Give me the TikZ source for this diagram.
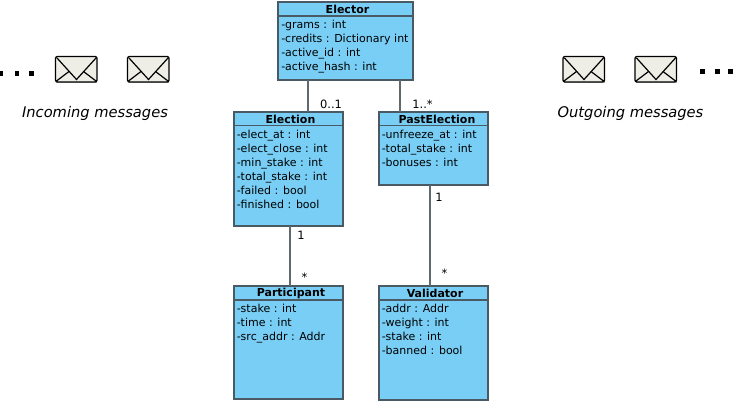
\documentclass[tikz,border=0pt]{standalone}
\usepackage{fontspec}
\setmainfont{DejaVu Sans}
\definecolor{umlblue}{HTML}{79CEF5}
\definecolor{umlline}{HTML}{4A5A64}
\definecolor{assocline}{HTML}{5F686C}
\definecolor{envfill}{HTML}{EEEEE6}
\tikzset{
  px/.style={x=0.75pt,y=-0.75pt},
  classbox/.style={draw=umlline,fill=umlblue,line width=0.9pt,inner sep=0pt,outer sep=0pt},
  classrule/.style={draw=umlline,line width=0.9pt},
  classtitle/.style={font=\fontsize{8.25pt}{10.5pt}\selectfont\bfseries,inner sep=0pt,anchor=center},
  attrs/.style={font=\fontsize{8.25pt}{10.5pt}\selectfont,inner sep=0pt,anchor=north west,align=left},
  assoc/.style={draw=assocline,line width=0.9pt},
  mult/.style={font=\fontsize{8.6pt}{10pt}\selectfont,inner sep=0pt},
  envbox/.style={draw=black,fill=envfill,line width=1pt,rounded corners=1.5pt},
  envflap/.style={draw=black,line width=0.9pt},
  caption/.style={font=\fontsize{11pt}{13pt}\selectfont\itshape,inner sep=0pt},
  dotmark/.style={fill=black,draw=none},
}
\newcommand{\envelope}[2]{%
  \begin{scope}[shift={(#1,#2)}]
    \fill[black!25] (0.5,1.5) rectangle (41.5,26.5);
    \draw[envbox] (0,0) rectangle (41.5,25.5);
    \draw[envflap] (1.5,1.5) -- (21,23) -- (40.5,1.5);
    \draw[envflap] (1,24.5) -- (13.5,15);
    \draw[envflap] (40.5,24.5) -- (28,15);
  \end{scope}}
\begin{document}
\begin{tikzpicture}[px]
\useasboundingbox (0,0) rectangle (733,404);
% connectors
\coordinate (c1) at (308,0);
\coordinate (c2) at (400,0);
\coordinate (c3) at (290,0);
\coordinate (c4) at (430,0);
\node[classbox, minimum width=101.25pt, minimum height=58.5pt] (elector) at (345.5,41) {};
\node[classbox, minimum width=81.75pt, minimum height=85.5pt] (election) at (288.5,169) {};
\node[classbox, minimum width=81.75pt, minimum height=54.75pt] (past) at (433.5,148.5) {};
\node[classbox, minimum width=81.75pt, minimum height=84.75pt] (participant) at (288.5,342.5) {};
\node[classbox, minimum width=81.75pt, minimum height=85.5pt] (validator) at (433.5,343) {};
\draw[assoc] (elector.south -| c1) -- (election.north -| c1);
\draw[assoc] (elector.south -| c2) -- (past.north -| c2);
\draw[assoc] (election.south -| c3) -- (participant.north -| c3);
\draw[assoc] (past.south -| c4) -- (validator.north -| c4);
% header rules
\draw[classrule] (278,16) -- (413,16);
\draw[classrule] (234,125.5) -- (343,125.5);
\draw[classrule] (379,125.5) -- (488,125.5);
\draw[classrule] (234,300) -- (343,300);
\draw[classrule] (379,300) -- (488,300);
% titles
\node[classtitle] (t1) at (347.5,9) {Elector};
\node[classtitle] (t2) at (290.5,119) {Election};
\node[classtitle] (t3) at (437,119) {PastElection};
\node[classtitle] (t4) at (291,293) {Participant};
\node[classtitle] (t5) at (435,293) {Validator};
% attributes
\node[attrs] (a1) at (281,20) {-grams : int\\-credits : Dictionary int\\-active\_id : int\\-active\_hash : int};
\node[attrs] (a2) at (236.5,129.5) {-elect\_at : int\\-elect\_close : int\\-min\_stake : int\\-total\_stake : int\\-failed : bool\\-finished : bool};
\node[attrs] (a3) at (381.5,129.5) {-unfreeze\_at : int\\-total\_stake : int\\-bonuses : int};
\node[attrs] (a4) at (236.5,304) {-stake : int\\-time : int\\-src\_addr : Addr};
\node[attrs] (a5) at (381.5,304) {-addr : Addr\\-weight : int\\-stake : int\\-banned : bool};
% multiplicities
\node[mult] (m1) at (331,104.5) {0..1};
\node[mult] (m2) at (422.5,104.5) {1..*};
\node[mult] (m3) at (301,235.5) {1};
\node[mult] (m4) at (304.5,277.5) {*};
\node[mult] (m5) at (439,197) {1};
\node[mult] (m6) at (444.5,273.5) {*};
% envelopes
\envelope{55.5}{56.5}
\envelope{127.5}{56.5}
\envelope{563}{56.5}
\envelope{635}{56.5}
% dots
\fill[dotmark] (0,71) rectangle (2.5,76);
\fill[dotmark] (14.5,71) rectangle (19,76);
\fill[dotmark] (29,71) rectangle (34,76);
\fill[dotmark] (700,68.5) rectangle (705,73.5);
\fill[dotmark] (715,68.5) rectangle (720,73.5);
\fill[dotmark] (728,68.5) rectangle (733,73.5);
% captions
\node[caption] (cin) at (95,113) {Incoming messages};
\node[caption] (cout) at (630.5,113) {Outgoing messages};
\end{tikzpicture}
\end{document}
